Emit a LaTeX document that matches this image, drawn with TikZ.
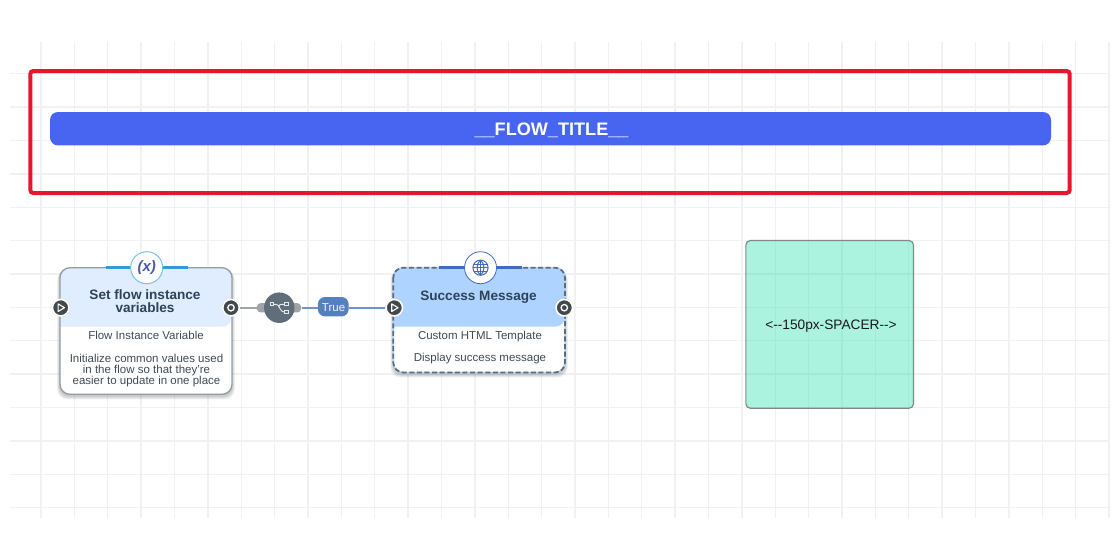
\documentclass[tikz,border=0pt]{standalone}
\usepackage{fontspec}
\setmainfont{Liberation Sans}
\definecolor{gridc}{HTML}{F1F1F1}
\definecolor{gridd}{HTML}{A1EAD5}
\definecolor{redc}{HTML}{E3182D}
\definecolor{titlec}{HTML}{4765F0}
\definecolor{spacerc}{HTML}{ABF3DE}
\definecolor{spacerb}{HTML}{7F8A88}
\definecolor{headA}{HTML}{DFEDFF}
\definecolor{headB}{HTML}{AED3FF}
\definecolor{borderc}{HTML}{929DA8}
\definecolor{dashc}{HTML}{5F6B78}
\definecolor{headtxt}{HTML}{2F4258}
\definecolor{bodytxt}{HTML}{3F4A57}
\definecolor{barA}{HTML}{2F9BD8}
\definecolor{barB}{HTML}{3E6DC0}
\definecolor{ringA}{HTML}{7CC0E8}
\definecolor{xtxt}{HTML}{4A5BA8}
\definecolor{portc}{HTML}{43484D}
\definecolor{gatec}{HTML}{5F6E7A}
\definecolor{stubc}{HTML}{A0A4A8}
\definecolor{edgec}{HTML}{6E93CC}
\definecolor{pillc}{HTML}{5580C0}
\tikzset{
  x=1pt,y=-1pt,
  headtext/.style={text=headtxt,font=\fontsize{13.6}{13}\selectfont\bfseries,align=center,inner sep=0pt},
  bodytext/.style={text=bodytxt,font=\fontsize{11.5}{11}\selectfont,align=center,inner sep=0pt},
  portbase/.style={circle,fill=portc,draw=white,line width=1.6pt,minimum size=16.5pt,inner sep=0pt},
  iconring/.style={circle,fill=white,line width=1pt,minimum size=32pt,inner sep=0pt},
}
\newcommand{\softshadow}[4]{%
  \foreach \s in {4,3,2,1}{
    \fill[black,opacity=0.055,rounded corners=10pt] (#1-\s*0.7,#2+\s*0.5) rectangle (#3+\s*0.7,#4+1.5+\s*0.9);
  }}
\newcommand{\inport}[2]{\node[circle,fill=black!25,minimum size=18pt,inner sep=0pt] at (#2) {};
  \node[portbase] (#1) at (#2) {};
  \draw[white,line width=1.1pt,line join=round] ($(#1)+(-2.6,-3.8)$) -- ($(#1)+(3.8,0)$) -- ($(#1)+(-2.6,3.8)$) -- cycle;}
\newcommand{\outport}[2]{\node[circle,fill=black!25,minimum size=18pt,inner sep=0pt] at (#2) {};
  \node[portbase] (#1) at (#2) {};
  \draw[white,line width=1.3pt] (#1) circle[radius=3.2pt];}
\newcommand{\gridlines}[1]{%
  \foreach \k in {0,...,32}{\fill[#1] ({41+\k*33.375-0.7},42) rectangle ({41+\k*33.375+0.7},518);}
  \foreach \k in {0,...,13}{\fill[#1] (10,{73.7+\k*33.38-0.7}) rectangle (1109,{73.7+\k*33.38+0.7});}}
\usetikzlibrary{calc}
\begin{document}
\begin{tikzpicture}
\useasboundingbox (0,0) rectangle (1120,560);
\fill[white] (0,0) rectangle (1120,560);
% grid
\gridlines{gridc}
% banner
\node[draw=redc,line width=4pt,rounded corners=3pt,minimum width=1039.4pt,minimum height=122pt,inner sep=0pt] (frame) at (550,132) {};
\node[fill=titlec,rounded corners=8pt,minimum width=1001pt,minimum height=33.4pt,inner sep=0pt] (title) at (550.5,128.7) {};
\node[text=white,font=\fontsize{18.1}{20}\selectfont\bfseries,inner sep=0pt] (titletext) at (551.5,130) {\_\_FLOW\_TITLE\_\_};
% spacer
\node[fill=spacerc,rounded corners=4.5pt,minimum width=167.3pt,minimum height=167.3pt,inner sep=0pt] (spacer) at (829.7,324.4) {};
\begin{scope}
  \clip[rounded corners=4.5pt] (spacer.north west) rectangle (spacer.south east);
  \gridlines{gridd}
\end{scope}
\draw[spacerb,line width=1.2pt,rounded corners=4.5pt] (spacer.north west) rectangle (spacer.south east);
\node[text=black!90,font=\fontsize{13.7}{15}\selectfont,inner sep=0pt] (spacertext) at (831,326) {<-{}-150px-SPACER-{}->};
% node 1
\softshadow{60}{267.7}{232}{394.3}
\node[fill=white,rounded corners=10pt,minimum width=172pt,minimum height=126.6pt,inner sep=0pt] (n1) at (146,331) {};
\fill[headA,rounded corners=10pt] (60,326.7) -- (60,267.7) -- (232,267.7) -- (232,326.7) [sharp corners] -- cycle;
\draw[borderc,line width=1.3pt,rounded corners=10pt] (60,267.7) rectangle (232,394.3);
\draw[barA,line width=3pt] (105.7,267.7) -- (188,267.7);
\node[iconring,draw=ringA,text=xtxt,font=\fontsize{15}{16}\selectfont\itshape\bfseries] (icon1) at (146.7,267.7) {(x)};
\node[headtext] (t1) at (145,301.5) {Set flow instance\\variables};
\node[bodytext] (b1) at (146,335.5) {Flow Instance Variable};
\node[bodytext,font=\fontsize{11.5}{11.4}\selectfont] (c1) at (146.5,370.5) {Initialize common values used\\in the flow so that they're\\easier to update in one place};
% node 2
\softshadow{393.3}{267.7}{565}{372.5}
\node[fill=white,rounded corners=10pt,minimum width=171.7pt,minimum height=104.8pt,inner sep=0pt] (n2) at (479.2,320.1) {};
\fill[headB,rounded corners=10pt] (393.3,326.7) -- (393.3,267.7) -- (565,267.7) -- (565,326.7) [sharp corners] -- cycle;
\draw[headB,line width=1.5pt,rounded corners=10pt] (393.3,267.7) rectangle (565,372.5);
\draw[dashc,line width=1.7pt,dash pattern=on 5pt off 2.6pt,rounded corners=10pt] (393.3,267.7) rectangle (565,372.5);
\draw[barB,line width=3pt] (439,267.7) -- (522,267.7);
\node[iconring,draw=barB,line width=0.8pt] (icon2) at (480.5,267.7) {};
\begin{scope}[shift={(icon2.center)},barB,line width=1pt]
  \draw (0,0) circle[radius=7.6pt];
  \draw (0,-7.6) .. controls (-4.6,-4) and (-4.6,4) .. (0,7.6);
  \draw (0,-7.6) .. controls (4.6,-4) and (4.6,4) .. (0,7.6);
  \draw (0,-7.6) -- (0,7.6);
  \draw (-7.6,0) -- (7.6,0);
  \draw (-6.6,-3.6) -- (6.6,-3.6);
  \draw (-6.6,3.6) -- (6.6,3.6);
\end{scope}
\node[headtext] (t2) at (478.5,297) {Success Message};
\node[bodytext] (b2) at (480,336.5) {Custom HTML Template};
\node[bodytext] (c2) at (480,358.7) {Display success message};
% connectors behind the gateway
\fill[stubc,rounded corners=3.5pt] (257,303.2) rectangle (301,312.4);
% gateway
\node[circle,fill=gatec,minimum size=30.5pt,inner sep=0pt] (gate) at (279.3,307.7) {};
\begin{scope}[shift={(gate.center)},white!85!gatec,line width=0.9pt]
  \draw (-6,-3.4) -- (-3,-3.4) .. controls (0.5,-3.4) and (0,4.6) .. (5.6,4.6);
  \draw (-0.6,-0.6) .. controls (0,-3.4) .. (5.6,-3.4);
  \draw (-9.2,-5) rectangle (-6,-1.8);
  \draw (5.6,-5.2) rectangle (8.8,-2);
  \draw (5.6,3) rectangle (8.8,6.2);
\end{scope}
\node[fill=pillc,rounded corners=7pt,minimum width=30.7pt,minimum height=19.3pt,inner sep=0pt] (pill) at (333.3,306.7) {};
\node[text=white!92!pillc,font=\fontsize{11.5}{12}\selectfont,inner sep=0pt] (pilltext) at (333.6,307.3) {True};
% ports
\outport{p1out}{231,307.7}
\inport{p1in}{60.7,307.7}
\inport{p2in}{394.3,307.7}
\outport{p2out}{564.3,307.7}
% connectors
\draw[stubc,line width=1.6pt] (p1out.east) -- (gate.west);
\draw[edgec,line width=1.6pt] (gate.east) ++(7,0) -- (pill.west |- gate.east);
\draw[edgec,line width=1.6pt] (pill.east |- gate.east) -- (p2in.west);
\end{tikzpicture}
\end{document}
